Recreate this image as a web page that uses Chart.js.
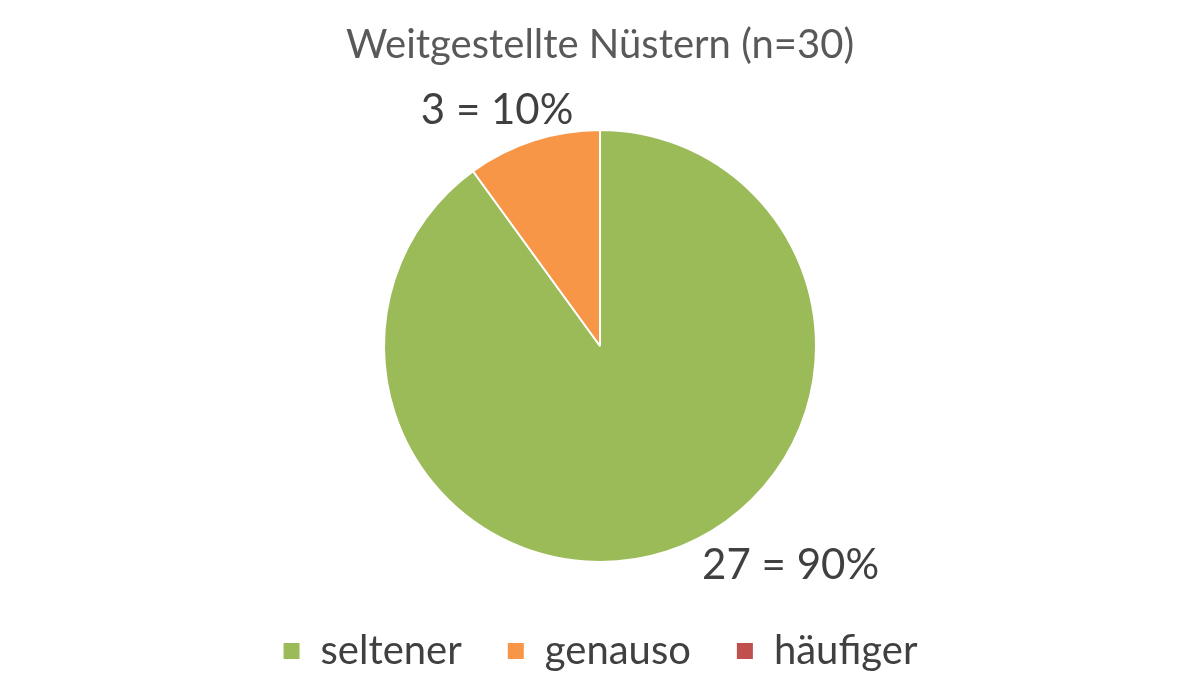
<!DOCTYPE html>
<html>
<head>
<meta charset="utf-8">
<script src="https://cdn.jsdelivr.net/npm/chart.js@4/dist/chart.umd.min.js"></script>
<style>
  html, body { margin: 0; padding: 0; background: #fff; }
  #wrap { width: 1200px; height: 699px; }
</style>
</head>
<body>
<div id="wrap"><canvas id="pie"></canvas></div>
<script>
// data
const categories = ['seltener', 'genauso', 'häufiger'];
const counts = [27, 3, 0];
const sliceColors = ['#9BBB59', '#F79646', '#C0504D'];
const chartTitle = 'Weitgestellte Nüstern (n=30)';

const total = counts.reduce((a, b) => a + b, 0);
const fontFamily = 'Lato, "Open Sans", sans-serif';

// where to put each value label: angle (deg, 0 = 3 o'clock) and distance in radii
const labelSpots = [
  { angle: 49, dist: 1.345 },
  { angle: -113.6, dist: 1.19 },
  { angle: 0, dist: 1.2 }
];

const valueLabels = {
  id: 'valueLabels',
  afterDatasetsDraw(chart) {
    const ctx = chart.ctx;
    const meta = chart.getDatasetMeta(0);
    ctx.save();
    ctx.font = '42px ' + fontFamily;
    ctx.fillStyle = '#404040';
    ctx.textAlign = 'center';
    ctx.textBaseline = 'middle';
    meta.data.forEach((arc, i) => {
      if (!counts[i]) return;
      const spot = labelSpots[i];
      const a = spot.angle * Math.PI / 180;
      const x = arc.x + Math.cos(a) * arc.outerRadius * spot.dist;
      const y = arc.y + Math.sin(a) * arc.outerRadius * spot.dist;
      const pct = Math.round(counts[i] / total * 100);
      ctx.fillText(counts[i] + ' = ' + pct + '%', x, y);
    });
    ctx.restore();
  }
};

new Chart(document.getElementById('pie'), {
  type: 'pie',
  data: {
    labels: categories,
    datasets: [{
      data: counts,
      backgroundColor: sliceColors,
      borderColor: '#ffffff',
      borderWidth: 2,
      radius: 216
    }]
  },
  options: {
    responsive: true,
    maintainAspectRatio: false,
    animation: false,
    layout: { padding: { top: 0, bottom: 18 } },
    plugins: {
      title: {
        display: true,
        text: chartTitle,
        color: '#595959',
        font: { family: fontFamily, size: 40, weight: 'normal' },
        padding: { top: 21, bottom: 37 }
      },
      legend: {
        position: 'bottom',
        labels: {
          color: '#404040',
          font: { family: fontFamily, size: 40 },
          boxWidth: 18,
          boxHeight: 18,
          padding: 45
        }
      },
      tooltip: { enabled: false }
    }
  },
  plugins: [valueLabels]
});
</script>
</body>
</html>
